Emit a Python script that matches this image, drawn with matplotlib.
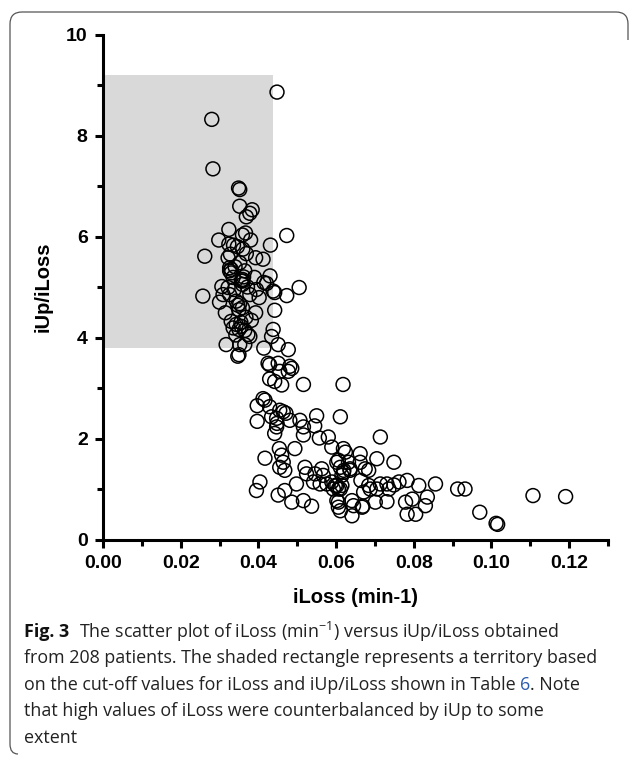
import matplotlib
matplotlib.use("Agg")
import matplotlib.pyplot as plt
from matplotlib.patches import Rectangle
from matplotlib.path import Path
from matplotlib.patches import PathPatch
from matplotlib.ticker import MultipleLocator
import numpy as np

# iLoss (min-1) and iUp/iLoss
iloss = [
    0.0448, 0.0280, 0.0283, 0.0349, 0.0352, 0.0352, 0.0384, 0.0378, 0.0369, 0.0473,
    0.0324, 0.0367, 0.0359, 0.0298, 0.0380, 0.0431, 0.0262, 0.0324, 0.0336, 0.0346,
    0.0322, 0.0369, 0.0393, 0.0412, 0.0352, 0.0326, 0.0330, 0.0326, 0.0365, 0.0335,
    0.0359, 0.0360, 0.0356, 0.0390, 0.0430, 0.0414, 0.0421, 0.0306, 0.0322, 0.0359,
    0.0505, 0.0438, 0.0442, 0.0473, 0.0257, 0.0309, 0.0326, 0.0378, 0.0402, 0.0300,
    0.0343, 0.0352, 0.0347, 0.0359, 0.0442, 0.0315, 0.0393, 0.0330, 0.0343, 0.0356,
    0.0382, 0.0335, 0.0350, 0.0365, 0.0373, 0.0378, 0.0438, 0.0434, 0.0317, 0.0352,
    0.0365, 0.0414, 0.0451, 0.0477, 0.0347, 0.0350, 0.0425, 0.0429, 0.0451, 0.0481,
    0.0486, 0.0477, 0.0455, 0.0429, 0.0442, 0.0460, 0.0516, 0.0618, 0.0412, 0.0417,
    0.0397, 0.0429, 0.0455, 0.0464, 0.0471, 0.0434, 0.0397, 0.0447, 0.0448, 0.0447,
    0.0481, 0.0507, 0.0550, 0.0611, 0.0442, 0.0516, 0.0516, 0.0545, 0.0557, 0.0580,
    0.0589, 0.0619, 0.0624, 0.0662, 0.0714, 0.0705, 0.0454, 0.0494, 0.0460, 0.0464,
    0.0455, 0.0417, 0.0468, 0.0520, 0.0524, 0.0546, 0.0563, 0.0567, 0.0606, 0.0611,
    0.0619, 0.0615, 0.0636, 0.0662, 0.0675, 0.0589, 0.0598, 0.0593, 0.0606, 0.0615,
    0.0576, 0.0542, 0.0559, 0.0498, 0.0404, 0.0395, 0.0451, 0.0468, 0.0486, 0.0516,
    0.0537, 0.0606, 0.0611, 0.0641, 0.0645, 0.0669, 0.0684, 0.0705, 0.0714, 0.0731,
    0.0749, 0.0701, 0.0731, 0.0749, 0.0783, 0.0856, 0.0913, 0.0932, 0.0970, 0.1012,
    0.1016, 0.1107, 0.1191, 0.0835, 0.0830, 0.0796, 0.0805, 0.0783, 0.0779, 0.0813,
    0.0762, 0.0736, 0.0688, 0.0671, 0.0664, 0.0602, 0.0632, 0.0636, 0.0620, 0.0602,
    0.0611, 0.0602, 0.0606, 0.0641, 0.0667, 0.0684, 0.0330, 0.0340, 0.0362, 0.0338,
    0.0350, 0.0368, 0.0342, 0.0355, 0.0372, 0.0328, 0.0360, 0.0395,
]
iup_iloss = [
    8.86, 8.32, 7.34, 6.96, 6.93, 6.60, 6.53, 6.46, 6.39, 6.02,
    6.14, 6.07, 6.03, 5.93, 5.93, 5.83, 5.61, 5.85, 5.83, 5.80,
    5.58, 5.66, 5.58, 5.55, 5.48, 5.38, 5.35, 5.32, 5.32, 5.19,
    5.15, 5.12, 5.12, 5.19, 5.22, 5.09, 5.07, 5.01, 4.99, 5.05,
    4.99, 4.92, 4.89, 4.83, 4.82, 4.85, 4.85, 4.85, 4.79, 4.70,
    4.72, 4.67, 4.64, 4.59, 4.54, 4.49, 4.49, 4.32, 4.26, 4.22,
    4.34, 4.19, 4.16, 4.14, 4.06, 4.02, 4.16, 4.02, 3.86, 3.86,
    3.86, 3.79, 3.86, 3.76, 3.63, 3.66, 3.49, 3.46, 3.49, 3.43,
    3.39, 3.33, 3.33, 3.18, 3.13, 3.06, 3.07, 3.07, 2.79, 2.76,
    2.65, 2.63, 2.56, 2.53, 2.50, 2.43, 2.34, 2.40, 2.30, 2.23,
    2.36, 2.36, 2.45, 2.43, 2.10, 2.23, 2.07, 2.25, 2.01, 2.03,
    1.83, 1.80, 1.73, 1.70, 2.03, 1.60, 1.80, 1.80, 1.67, 1.53,
    1.43, 1.61, 1.37, 1.43, 1.30, 1.30, 1.40, 1.27, 1.57, 1.43,
    1.33, 1.27, 1.40, 1.53, 1.40, 1.14, 1.07, 1.00, 1.00, 1.07,
    1.10, 1.14, 1.10, 1.10, 1.14, 0.97, 0.88, 0.97, 0.74, 0.77,
    0.66, 0.74, 0.57, 0.47, 0.67, 0.66, 1.07, 1.00, 1.10, 1.10,
    1.08, 0.74, 0.75, 1.53, 1.17, 1.10, 1.00, 1.00, 0.54, 0.32,
    0.30, 0.87, 0.85, 0.84, 0.67, 0.80, 0.50, 0.50, 0.74, 1.07,
    1.14, 1.00, 1.00, 0.94, 1.17, 1.53, 1.53, 1.37, 1.37, 1.07,
    1.00, 0.77, 0.64, 0.77, 0.64, 1.37, 5.28, 5.40, 5.20, 4.95,
    4.55, 4.40, 4.05, 4.30, 5.00, 5.65, 5.75, 4.95,
]

# cut-off territory
cut_iloss = 0.0437
cut_ratio_low = 3.8
cut_ratio_high = 9.2

x_ticks = [0.00, 0.02, 0.04, 0.06, 0.08, 0.10, 0.12]
y_ticks = [0, 2, 4, 6, 8, 10]

plt.rcParams['font.family'] = ['Liberation Sans', 'DejaVu Sans']
plt.rcParams['mathtext.fontset'] = 'custom'
plt.rcParams['mathtext.rm'] = 'Open Sans'

fig = plt.figure(figsize=(6.3, 7.57), dpi=100)
ax = fig.add_axes([0.1635, 0.2873, 0.8015, 0.6671])

ax.add_patch(Rectangle((0, cut_ratio_low), cut_iloss, cut_ratio_high - cut_ratio_low,
                       facecolor='#d9d9d9', edgecolor='none', zorder=0))
ax.scatter(iloss, iup_iloss, s=100, facecolors='none', edgecolors='black',
           linewidths=1.1, zorder=3, clip_on=False)

ax.set_xlim(0, 0.13)
ax.set_ylim(0, 10)
ax.set_xticks(x_ticks)
ax.set_yticks(y_ticks)
ax.set_xticklabels([f"{v:.2f}" for v in x_ticks])
ax.xaxis.set_minor_locator(MultipleLocator(0.01))
ax.yaxis.set_minor_locator(MultipleLocator(1))

for side in ['top', 'right']:
    ax.spines[side].set_visible(False)
for side in ['left', 'bottom']:
    ax.spines[side].set_linewidth(2.2)

ax.tick_params(which='major', direction='out', length=6, width=2.2,
               labelsize=14, pad=5)
ax.tick_params(which='minor', direction='out', length=4, width=2.2)
for lab in ax.get_xticklabels() + ax.get_yticklabels():
    lab.set_fontweight('bold')

ax.set_xlabel('iLoss (min-1)', fontsize=14.5, fontweight='bold', labelpad=12)
ax.set_ylabel('iUp/iLoss', fontsize=14.5, fontweight='bold', labelpad=10)

# caption, figure pixel coordinates (from top)
W, H = 630, 757
cap_font = 'Open Sans'
cap_size = 12.9
x0 = 24
lines_y = [632, 658, 685, 711, 738]

fig.canvas.draw()
renderer = fig.canvas.get_renderer()


def put(x, y, s, **kw):
    t = fig.text(x / W, 1 - y / H, s, va='center', ha='left', **kw)
    bb = t.get_window_extent(renderer=renderer)
    return x + bb.width


def_kw = dict(family=cap_font, fontsize=cap_size, color='#222222')
nx = put(x0, lines_y[0], 'Fig. 3', family=cap_font, fontsize=cap_size,
         fontweight='bold', color='#111111')
put(nx + 10, lines_y[0], r'The scatter plot of iLoss (min$^{-1}$) versus iUp/iLoss obtained', **def_kw)
put(x0, lines_y[1], 'from 208 patients. The shaded rectangle represents a territory based', **def_kw)
nx = put(x0, lines_y[2], 'on the cut-off values for iLoss and iUp/iLoss shown in Table ', **def_kw)
nx = put(nx, lines_y[2], '6', family=cap_font, fontsize=cap_size, color='#2a5db0')
put(nx, lines_y[2], '. Note', **def_kw)
put(x0, lines_y[3], 'that high values of iLoss were counterbalanced by iUp to some', **def_kw)
put(x0, lines_y[4], 'extent', **def_kw)

# frame: rounded top corners, left edge down to the caption end
r = 12
pts = [(18, 754), (10, 748), (10, 12 + r), (10, 12), (10 + r, 12),
       (628 - r, 12), (628, 12), (628, 12 + r), (628, 40)]
codes = [Path.MOVETO, Path.CURVE3, Path.LINETO, Path.CURVE3, Path.CURVE3,
         Path.LINETO, Path.CURVE3, Path.CURVE3, Path.LINETO]
pts = [(x / W, 1 - y / H) for x, y in pts]
# fix first curve: control point then end point
pts[1] = (10 / W, 1 - 754 / H)
pts.insert(2, (10 / W, 1 - 744 / H))
codes.insert(2, Path.CURVE3)
fig.patches.append(PathPatch(Path(pts, codes), transform=fig.transFigure,
                             facecolor='none', edgecolor='#555555', linewidth=0.9))

fig.savefig('out.png', dpi=100)
